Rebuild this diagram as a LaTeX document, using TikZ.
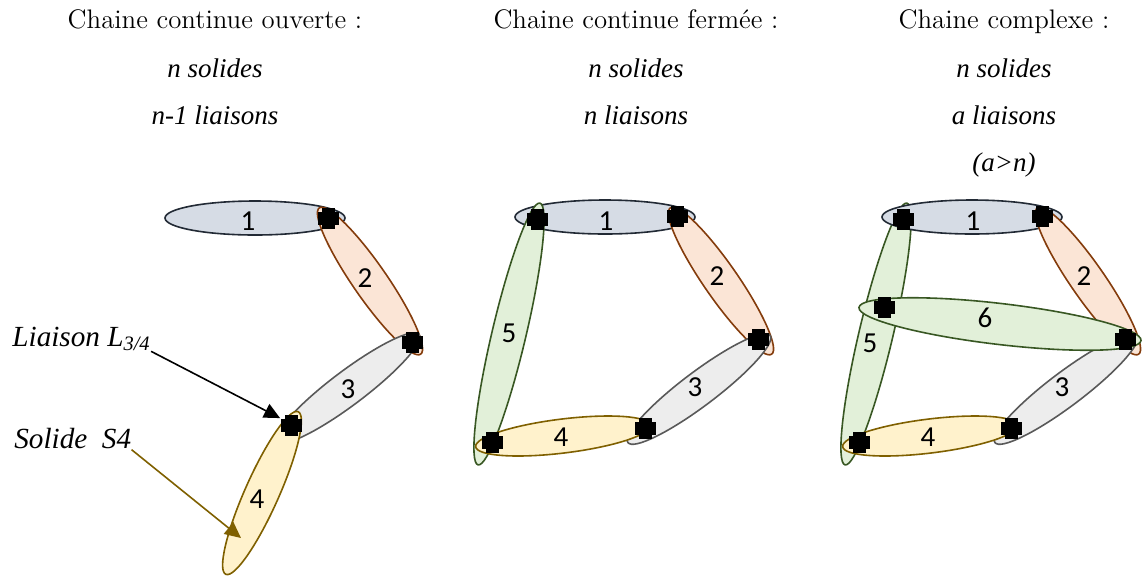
\documentclass[tikz,border=0pt]{standalone}
\usepackage{fontspec}
\newfontfamily\timesit[ItalicFont=Liberation Serif Italic]{Liberation Serif}
\newfontfamily\calibri{Carlito}
\usetikzlibrary{shapes.geometric,arrows.meta}
\definecolor{fillone}{HTML}{D6DCE5}
\definecolor{drawone}{HTML}{222A35}
\definecolor{filltwo}{HTML}{FBE5D6}
\definecolor{drawtwo}{HTML}{843C0C}
\definecolor{fillthree}{HTML}{EDEDED}
\definecolor{drawthree}{HTML}{595959}
\definecolor{fillfour}{HTML}{FFF2CC}
\definecolor{drawfour}{HTML}{7F6000}
\definecolor{fillfive}{HTML}{E2F0D9}
\definecolor{drawfive}{HTML}{385723}
\tikzset{
  x=0.5pt,y=-0.5pt,
  piece/.style={ellipse,inner sep=0pt,outer sep=0pt,line width=0.8pt,minimum height=17pt},
  pieceone/.style={piece,draw=drawone,fill=fillone,minimum width=90pt},
  piecetwo/.style={piece,draw=drawtwo,fill=filltwo,minimum width=89pt,rotate=-55.3},
  piecethree/.style={piece,draw=drawthree,fill=fillthree,minimum width=89pt,rotate=37},
  piecefour/.style={piece,draw=drawfour,fill=fillfour,minimum width=88pt},
  piecefive/.style={piece,draw=drawfive,fill=fillfive,minimum width=134.5pt,rotate=76.7},
  piecesix/.style={piece,draw=drawfive,fill=fillfive,minimum width=142pt,minimum height=20.5pt,rotate=-6.7},
  joint/.style={fill=black,inner sep=0pt,minimum width=10.5pt,minimum height=6.5pt,
    label={[fill=black,inner sep=0pt,minimum width=6.5pt,minimum height=10.5pt]center:}},
  num/.style={font=\calibri\fontsize{14.5}{17}\selectfont,inner sep=0pt},
  heading/.style={font=\fontsize{13.4}{16}\selectfont,inner sep=0pt,anchor=base},
  detail/.style={font=\timesit\itshape\fontsize{13.5}{16}\selectfont,inner sep=0pt,anchor=base},
  callout/.style={font=\timesit\itshape\fontsize{14.6}{17}\selectfont,inner sep=0pt,anchor=west},
}
\begin{document}
\begin{tikzpicture}
\useasboundingbox (0,0) rectangle (1142,575);
% left chain
\node[heading] (titleA) at (215,28) {Chaine continue ouverte :};
\node[detail] (solidsA) at (215,77) {n solides};
\node[detail] (linksA) at (215,124) {n-1 liaisons};
\node[pieceone] (aS1) at (255,218) {};
\node[piecetwo] (aS2) at (370,281) {};
\node[piecethree] (aS3) at (348,388) {};
\node[piecefour,minimum width=89pt,rotate=66] (aS4) at (262,493) {};
\node[num] (aN1) at (248,221) {1};
\node[num] (aN2) at (365,278) {2};
\node[num] (aN3) at (348,389) {3};
\node[num] (aN4) at (257,499) {4};
\node[joint] (aJ1) at (328,218) {};
\node[joint] (aJ2) at (412,342) {};
\node[joint] (aJ3) at (291,425) {};
\node[callout] (liaison) at (12,339) {Liaison L\textsubscript{3/4}};
\node[callout] (solide) at (14,439) {Solide~~S4};
\coordinate (aS4tip) at (241,538);
\draw[-{Triangle[length=8pt,width=7.5pt]},line width=0.8pt] (liaison.south east) -- (aJ3.north west);
\draw[-{Triangle[length=8pt,width=7.5pt]},line width=0.8pt,draw=drawfour,fill=drawfour] (solide.south east) -- (aS4tip);
% middle chain
\node[heading] (titleB) at (636,28) {Chaine continue fermée :};
\node[detail] (solidsB) at (636,77) {n solides};
\node[detail] (linksB) at (636,124) {n liaisons};
\node[pieceone] (bS1) at (605,217) {};
\node[piecetwo] (bS2) at (721,281) {};
\node[piecethree] (bS3) at (699,389) {};
\node[piecefive] (bS5) at (509,334) {};
\node[piecefour,rotate=7] (bS4) at (563,436) {};
\node[num] (bN1) at (606,221) {1};
\node[num] (bN2) at (717,276) {2};
\node[num] (bN3) at (695,387) {3};
\node[num] (bN4) at (561,437) {4};
\node[num] (bN5) at (509,333) {5};
\node[joint] (bJ1) at (537,219) {};
\node[joint] (bJ2) at (677,216) {};
\node[joint] (bJ3) at (758,339) {};
\node[joint] (bJ4) at (645,428) {};
\node[joint] (bJ5) at (492,442) {};
% right chain
\node[heading] (titleC) at (1004,28) {Chaine complexe :};
\node[detail] (solidsC) at (1004,77) {n solides};
\node[detail] (linksC) at (1004,124) {a liaisons};
\node[detail] (extraC) at (1004,171) {(a>n)};
\node[piecefive] (cS5) at (876,334) {};
\node[pieceone] (cS1) at (972,217) {};
\node[piecetwo] (cS2) at (1088,281) {};
\node[piecethree] (cS3) at (1066,389) {};
\node[piecefour,rotate=7] (cS4) at (930,436) {};
\node[piecesix] (cS6) at (1000,324) {};
\node[num] (cN1) at (973,221) {1};
\node[num] (cN2) at (1084,276) {2};
\node[num] (cN3) at (1062,387) {3};
\node[num] (cN4) at (928,437) {4};
\node[num] (cN5) at (870,343) {5};
\node[num] (cN6) at (985,318) {6};
\node[joint] (cJ1) at (903,219) {};
\node[joint] (cJ2) at (1042,216) {};
\node[joint] (cJ3) at (1125,339) {};
\node[joint] (cJ4) at (1011,428) {};
\node[joint] (cJ5) at (859,442) {};
\node[joint] (cJ6) at (884,307) {};
\end{tikzpicture}
\end{document}
